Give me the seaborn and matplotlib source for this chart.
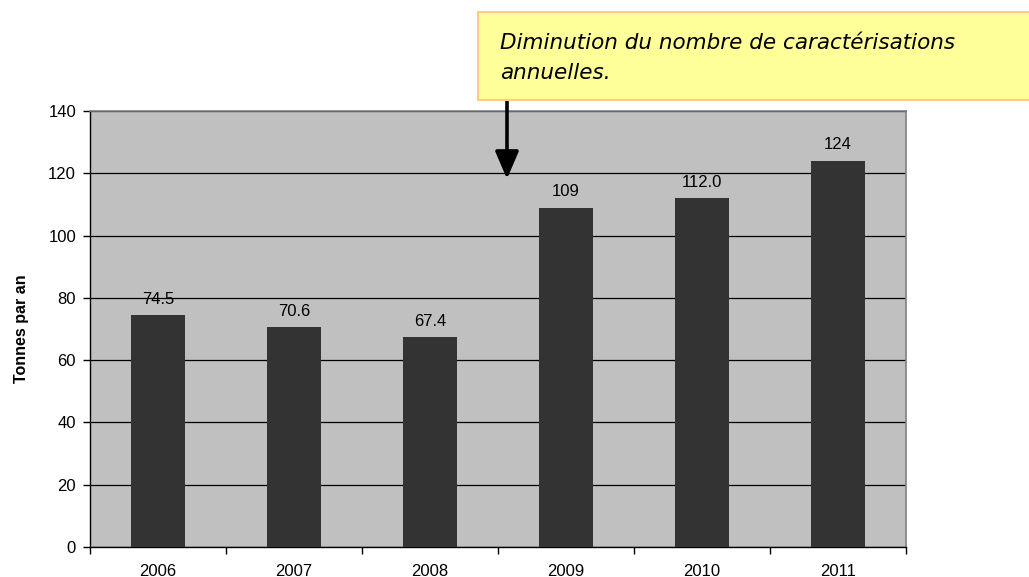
import matplotlib
matplotlib.use("Agg")
import matplotlib.pyplot as plt
import seaborn as sns
import pandas as pd
from matplotlib.patches import Rectangle

years = ["2006", "2007", "2008", "2009", "2010", "2011"]
values = [74.5, 70.6, 67.4, 109, 112.0, 124]
value_labels = ["74.5", "70.6", "67.4", "109", "112.0", "124"]
y_ticks = [0, 20, 40, 60, 80, 100, 120, 140]
note_text = "Diminution du nombre de caractérisations\nannuelles."
y_title = "Tonnes par an"

sns.set_theme(style="white")
plt.rcParams['font.family'] = ['Liberation Sans', 'DejaVu Sans']
plt.rcParams['text.color'] = 'black'
plt.rcParams['xtick.color'] = 'black'
plt.rcParams['ytick.color'] = 'black'
plt.rcParams['axes.labelcolor'] = 'black'

df = pd.DataFrame({"year": years, "value": values})

fig = plt.figure(figsize=(10.29, 5.77), dpi=100)
ax = fig.add_axes([90/1029, 30/577, 816/1029, 436/577])
ax.set_facecolor("#C0C0C0")

sns.barplot(data=df, x="year", y="value", color="#333333", width=0.4,
            saturation=1, ax=ax, zorder=3, edgecolor="#333333", linewidth=0)

ax.set_ylim(0, 140)
ax.set_xlim(-0.5, 5.5)
ax.set_yticks(y_ticks)
ax.yaxis.grid(True, color="black", linewidth=0.9, zorder=1)
ax.set_axisbelow(True)

ax.bar_label(ax.containers[0], labels=value_labels, padding=6, fontsize=12, color="black")

ax.set_xlabel("")
ax.set_ylabel(y_title, fontsize=11.5, fontweight="bold", labelpad=14)

for s in ["top", "right"]:
    ax.spines[s].set_color("#808080")
    ax.spines[s].set_linewidth(1.2)
for s in ["left", "bottom"]:
    ax.spines[s].set_color("black")
    ax.spines[s].set_linewidth(1.0)

ax.tick_params(axis="y", which="major", left=True, length=5, width=1, color="black",
               labelsize=12, pad=5)
ax.tick_params(axis="x", which="major", bottom=False, labelsize=12, pad=6)
ax.set_xticks([i - 0.5 for i in range(len(years) + 1)], minor=True)
ax.tick_params(axis="x", which="minor", bottom=True, length=5, width=1, color="black")

# annotation box
box = Rectangle((478/1029, (577-100)/577), 600/1029, 88/577, transform=fig.transFigure,
                facecolor="#FFFF99", edgecolor="#FFCC88", linewidth=1.5, clip_on=False, zorder=5)
fig.patches.append(box)
fig.text(500/1029, (577-58)/577, note_text, fontsize=15.5, style="italic",
         family=["DejaVu Sans"], ha="left", va="center", linespacing=1.6, zorder=6)

ax.annotate("", xy=(2.566, 118.2), xycoords="data",
            xytext=(507/1029, (577-101)/577), textcoords="figure fraction",
            arrowprops=dict(arrowstyle="-|>,head_length=1.4,head_width=0.6",
                            color="black", lw=2.6, shrinkA=0, shrinkB=0),
            annotation_clip=False, zorder=7)

fig.savefig("out.png", dpi=100)
